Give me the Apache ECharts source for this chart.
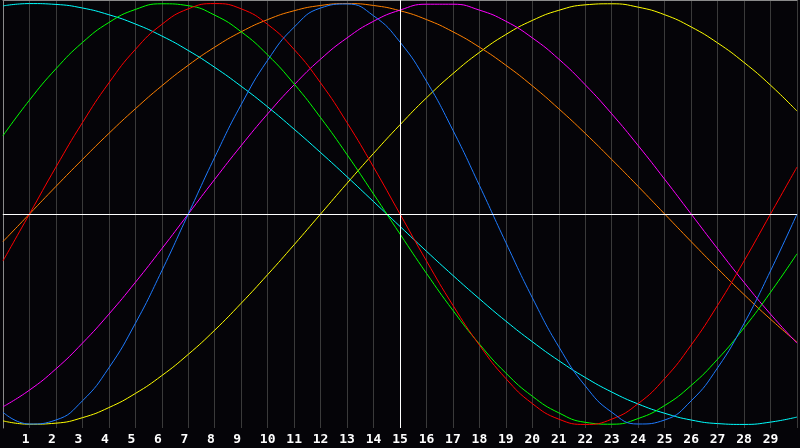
<!DOCTYPE html>
<html>
<head>
<meta charset="utf-8">
<script src="https://cdn.jsdelivr.net/npm/echarts@6/dist/echarts.min.js"></script>
<style>
html,body{margin:0;padding:0;background:#050408;}
#chart{width:800px;height:448px;}
</style>
</head>
<body>
<div id="chart"></div>
<script>
const days = [0,1,2,3,4,5,6,7,8,9,10,11,12,13,14,15,16,17,18,19,20,21,22,23,24,25,26,27,28,29,30];
const redValues = [-22.3,0,22.3,43.4,62.3,78.2,90.1,97.5,100,97.5,90.1,78.2,62.3,43.4,22.3,0,-22.3,-43.4,-62.3,-78.2,-90.1,-97.5,-100,-97.5,-90.1,-78.2,-62.3,-43.4,-22.3,0,22.3];
const greenValues = [37.2,54.1,69.0,81.5,91.0,97.2,99.9,99.0,94.5,86.6,75.6,61.8,45.8,28.2,9.5,-9.5,-28.2,-45.8,-61.8,-75.6,-86.6,-94.5,-99.0,-99.9,-97.2,-91.0,-81.5,-69.0,-54.1,-37.2,-18.9];
const cyanValues = [98.9,100.0,99.6,97.9,94.7,90.3,84.6,77.7,69.7,60.7,50.9,40.3,29.2,17.7,5.9,-5.9,-17.7,-29.2,-40.3,-50.9,-60.7,-69.7,-77.7,-84.6,-90.3,-94.7,-97.9,-99.6,-100.0,-98.9,-96.5];
const blueValues = [-94.2,-99.8,-97.9,-88.8,-73.1,-52.0,-27.0,0,27.0,52.0,73.1,88.8,97.9,99.8,94.2,81.7,63.1,39.8,13.6,-13.6,-39.8,-63.1,-81.7,-94.2,-99.8,-97.9,-88.8,-73.1,-52.0,-27.0,0];
const orangeValues = [-13.1,0,13.1,25.9,38.3,50,60.9,70.7,79.3,86.6,92.4,96.6,99.1,100,99.1,96.6,92.4,86.6,79.3,70.7,60.9,50,38.3,25.9,13.1,0,-13.1,-25.9,-38.3,-50,-60.9];
const magentaValues = [-91.6,-83.7,-73.6,-61.4,-47.6,-32.5,-16.5,0,16.5,32.5,47.6,61.4,73.6,83.7,91.6,96.9,99.7,99.7,96.9,91.6,83.7,73.6,61.4,47.6,32.5,16.5,0,-16.5,-32.5,-47.6,-61.4];
const yellowValues = [-98.3,-99.9,-99.4,-96.8,-92.0,-85.3,-76.8,-66.7,-55.2,-42.4,-28.8,-14.6,0,14.6,28.8,42.4,55.2,66.7,76.8,85.3,92.0,96.8,99.4,99.9,98.3,94.7,88.9,81.3,72.0,61.2,48.9];
const tickLabels = ['','1','2','3','4','5','6','7','8','9','10','11','12','13','14','15','16','17','18','19','20','21','22','23','24','25','26','27','28','29',''];
const centerDay = 15;

const seriesDefs = [
  {name:'yellow', values: yellowValues, color:'#ffff00'},
  {name:'orange', values: orangeValues, color:'#ff8000'},
  {name:'magenta', values: magentaValues, color:'#ff00ff'},
  {name:'cyan', values: cyanValues, color:'#00ffff'},
  {name:'green', values: greenValues, color:'#00ff00'},
  {name:'red', values: redValues, color:'#ff0000'},
  {name:'blue', values: blueValues, color:'#1e7bff'}
];

const chart = echarts.init(document.getElementById('chart'));
const series = [{
  type:'line', data:[], z:1, silent:true,
  markLine:{
    silent:true, symbol:'none', animation:false,
    label:{show:false},
    lineStyle:{color:'#ffffff', width:1, type:'solid'},
    data:[{xAxis:centerDay},{yAxis:0}]
  }
}];
seriesDefs.forEach(s => {
  series.push({
    name:s.name, type:'line', z:2,
    data: days.map((d,i) => [d, s.values[i]]),
    smooth:0.5, showSymbol:false, symbol:'none',
    lineStyle:{color:s.color, width:1},
    itemStyle:{color:s.color}
  });
});

chart.setOption({
  backgroundColor:'#050408',
  animation:false,
  grid:{left:0, right:0, top:0, bottom:20, show:false},
  xAxis:[{
    type:'value', min:0, max:30, interval:1, position:'bottom',
    axisLine:{show:true, lineStyle:{color:'#8a8a8a', width:1}},
    axisTick:{show:false},
    splitLine:{show:true, lineStyle:{color:'#3a3a3a', width:1}},
    axisLabel:{
      show:true, color:'#ffffff', fontFamily:'DejaVu Sans Mono', fontWeight:'bold', fontSize:13, margin:5,
      formatter: v => { const t = tickLabels[Math.round(v)] || ''; return t.length === 1 ? t + '\u00a0' : t; }
    }
  },{
    type:'value', min:0, max:30, interval:1, position:'top',
    axisLine:{show:true, lineStyle:{color:'#8a8a8a', width:1}},
    axisTick:{show:false}, axisLabel:{show:false}, splitLine:{show:false}
  }],
  yAxis:{
    type:'value', min:-101.7, max:101.7, position:'left',
    axisLine:{show:true, onZero:false, lineStyle:{color:'#8a8a8a', width:1}},
    axisTick:{show:false}, axisLabel:{show:false}, splitLine:{show:false}
  },
  series: series
});
</script>
</body>
</html>
